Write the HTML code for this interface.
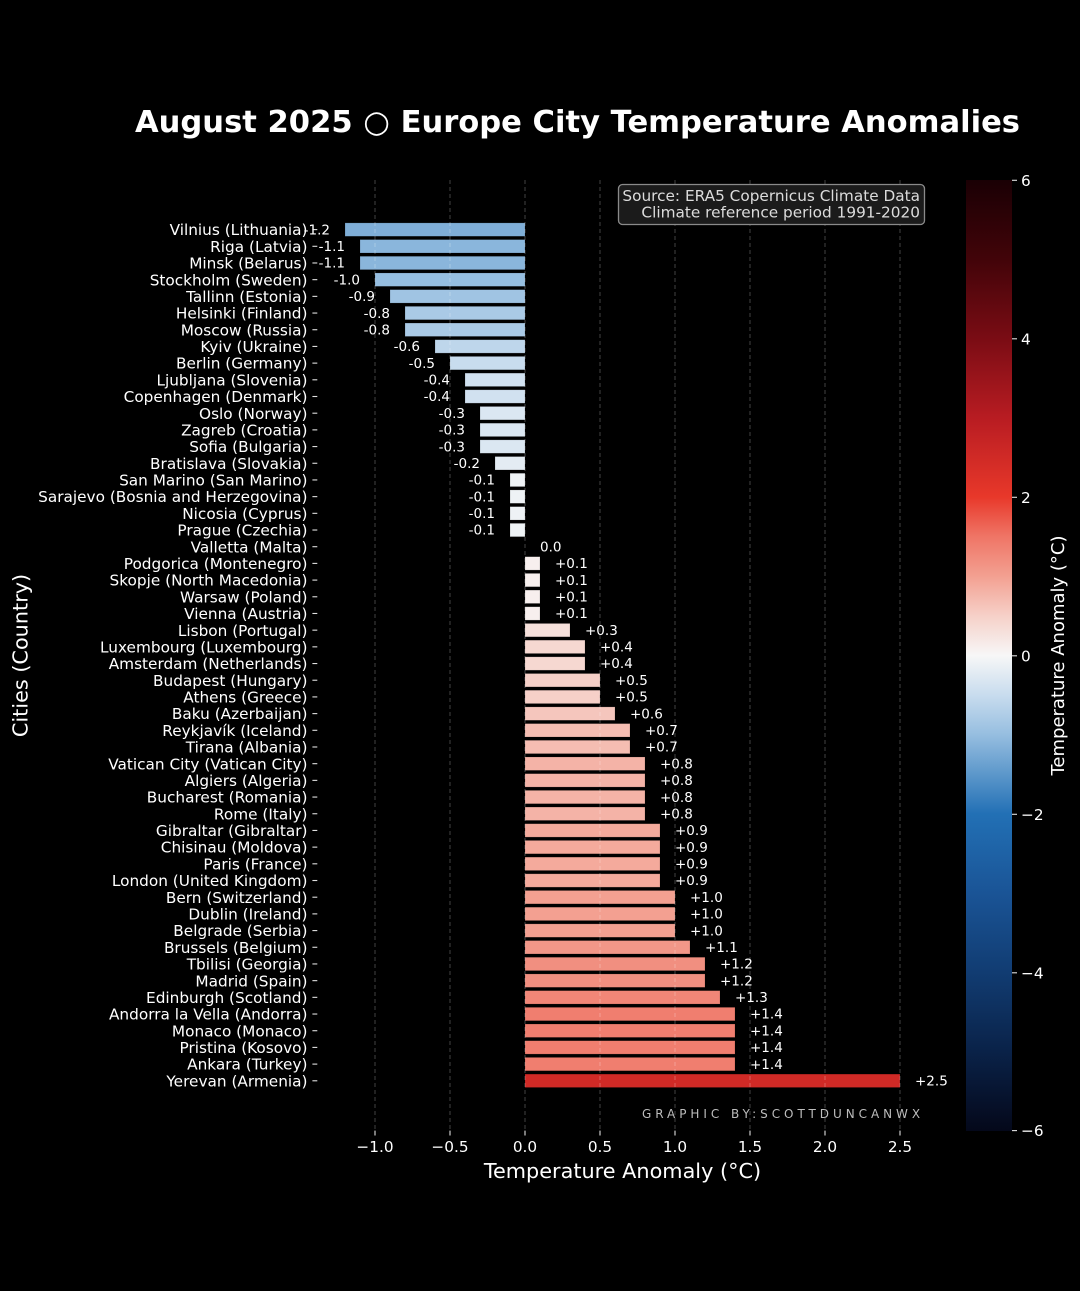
<!DOCTYPE html>
<html>
<head>
<meta charset="utf-8">
<style>
  html,body{margin:0;padding:0;background:#000;}
  svg{display:block;}
  text{font-family:"DejaVu Sans","Liberation Sans",sans-serif;}
  .yl{font-size:15.3px;fill:#fff;text-anchor:end;}
  .vn{font-size:13.5px;fill:#fff;text-anchor:end;}
  .vp{font-size:13.5px;fill:#fff;text-anchor:start;}
  .xt{font-size:15.3px;fill:#fff;text-anchor:middle;}
  .ct{font-size:15.3px;fill:#fff;text-anchor:start;}
  .tk{stroke:#e0e0e0;stroke-width:1.1;}
  .bar{stroke:#000;stroke-opacity:0.25;stroke-width:0.6;}
</style>
</head>
<body>
<svg width="1080" height="1291" viewBox="0 0 1080 1291" xmlns="http://www.w3.org/2000/svg">
  <defs>
    <linearGradient id="cb" x1="0" y1="0" x2="0" y2="1">
      <stop offset="0" stop-color="#1a0004"/>
      <stop offset="0.0833" stop-color="#420409"/>
      <stop offset="0.1667" stop-color="#7a0c14"/>
      <stop offset="0.25" stop-color="#b81c22"/>
      <stop offset="0.3333" stop-color="#e8382a"/>
      <stop offset="0.375" stop-color="#ef7566"/>
      <stop offset="0.4167" stop-color="#f3a091"/>
      <stop offset="0.4583" stop-color="#f6d0c8"/>
      <stop offset="0.5" stop-color="#f7f7f7"/>
      <stop offset="0.5417" stop-color="#c8dcee"/>
      <stop offset="0.5833" stop-color="#96bee0"/>
      <stop offset="0.6667" stop-color="#2270b5"/>
      <stop offset="0.75" stop-color="#1a5496"/>
      <stop offset="0.8333" stop-color="#113c72"/>
      <stop offset="0.9167" stop-color="#0a2248"/>
      <stop offset="1" stop-color="#04081a"/>
    </linearGradient>
  </defs>

  <rect x="0" y="0" width="1080" height="1291" fill="#000"/>

  <!-- Title -->
  <text x="577.5" y="132" font-size="30.6" font-weight="bold" fill="#fff" text-anchor="middle" textLength="885" lengthAdjust="spacingAndGlyphs">August 2025 ○ Europe City Temperature Anomalies</text>

  <!-- Rows -->
  <g transform="translate(0,229.6)"><text class="yl" x="307.5" y="5.6">Vilnius (Lithuania)</text><line class="tk" x1="312.4" x2="317.3" y1="0" y2="0"/><rect class="bar" x="345" y="-6.7" width="180" height="13.4" fill="#7faed7"/><text class="vn" x="330" y="4.7">-1.2</text></g>
  <g transform="translate(0,246.29)"><text class="yl" x="307.5" y="5.6">Riga (Latvia)</text><line class="tk" x1="312.4" x2="317.3" y1="0" y2="0"/><rect class="bar" x="360" y="-6.7" width="165" height="13.4" fill="#8ab6dc"/><text class="vn" x="345" y="4.7">-1.1</text></g>
  <g transform="translate(0,262.98)"><text class="yl" x="307.5" y="5.6">Minsk (Belarus)</text><line class="tk" x1="312.4" x2="317.3" y1="0" y2="0"/><rect class="bar" x="360" y="-6.7" width="165" height="13.4" fill="#8ab6dc"/><text class="vn" x="345" y="4.7">-1.1</text></g>
  <g transform="translate(0,279.67)"><text class="yl" x="307.5" y="5.6">Stockholm (Sweden)</text><line class="tk" x1="312.4" x2="317.3" y1="0" y2="0"/><rect class="bar" x="375" y="-6.7" width="150" height="13.4" fill="#96bee0"/><text class="vn" x="360" y="4.7">-1.0</text></g>
  <g transform="translate(0,296.36)"><text class="yl" x="307.5" y="5.6">Tallinn (Estonia)</text><line class="tk" x1="312.4" x2="317.3" y1="0" y2="0"/><rect class="bar" x="390" y="-6.7" width="135" height="13.4" fill="#a0c4e3"/><text class="vn" x="375" y="4.7">-0.9</text></g>
  <g transform="translate(0,313.05)"><text class="yl" x="307.5" y="5.6">Helsinki (Finland)</text><line class="tk" x1="312.4" x2="317.3" y1="0" y2="0"/><rect class="bar" x="405" y="-6.7" width="120" height="13.4" fill="#aacae6"/><text class="vn" x="390" y="4.7">-0.8</text></g>
  <g transform="translate(0,329.74)"><text class="yl" x="307.5" y="5.6">Moscow (Russia)</text><line class="tk" x1="312.4" x2="317.3" y1="0" y2="0"/><rect class="bar" x="405" y="-6.7" width="120" height="13.4" fill="#aacae6"/><text class="vn" x="390" y="4.7">-0.8</text></g>
  <g transform="translate(0,346.43)"><text class="yl" x="307.5" y="5.6">Kyiv (Ukraine)</text><line class="tk" x1="312.4" x2="317.3" y1="0" y2="0"/><rect class="bar" x="435" y="-6.7" width="90" height="13.4" fill="#bed6eb"/><text class="vn" x="420" y="4.7">-0.6</text></g>
  <g transform="translate(0,363.12)"><text class="yl" x="307.5" y="5.6">Berlin (Germany)</text><line class="tk" x1="312.4" x2="317.3" y1="0" y2="0"/><rect class="bar" x="450" y="-6.7" width="75" height="13.4" fill="#c8dcee"/><text class="vn" x="435" y="4.7">-0.5</text></g>
  <g transform="translate(0,379.81)"><text class="yl" x="307.5" y="5.6">Ljubljana (Slovenia)</text><line class="tk" x1="312.4" x2="317.3" y1="0" y2="0"/><rect class="bar" x="465" y="-6.7" width="60" height="13.4" fill="#d1e1f0"/><text class="vn" x="450" y="4.7">-0.4</text></g>
  <g transform="translate(0,396.5)"><text class="yl" x="307.5" y="5.6">Copenhagen (Denmark)</text><line class="tk" x1="312.4" x2="317.3" y1="0" y2="0"/><rect class="bar" x="465" y="-6.7" width="60" height="13.4" fill="#d1e1f0"/><text class="vn" x="450" y="4.7">-0.4</text></g>
  <g transform="translate(0,413.19)"><text class="yl" x="307.5" y="5.6">Oslo (Norway)</text><line class="tk" x1="312.4" x2="317.3" y1="0" y2="0"/><rect class="bar" x="480" y="-6.7" width="45" height="13.4" fill="#dbe7f2"/><text class="vn" x="465" y="4.7">-0.3</text></g>
  <g transform="translate(0,429.88)"><text class="yl" x="307.5" y="5.6">Zagreb (Croatia)</text><line class="tk" x1="312.4" x2="317.3" y1="0" y2="0"/><rect class="bar" x="480" y="-6.7" width="45" height="13.4" fill="#dbe7f2"/><text class="vn" x="465" y="4.7">-0.3</text></g>
  <g transform="translate(0,446.57)"><text class="yl" x="307.5" y="5.6">Sofia (Bulgaria)</text><line class="tk" x1="312.4" x2="317.3" y1="0" y2="0"/><rect class="bar" x="480" y="-6.7" width="45" height="13.4" fill="#dbe7f2"/><text class="vn" x="465" y="4.7">-0.3</text></g>
  <g transform="translate(0,463.26)"><text class="yl" x="307.5" y="5.6">Bratislava (Slovakia)</text><line class="tk" x1="312.4" x2="317.3" y1="0" y2="0"/><rect class="bar" x="495" y="-6.7" width="30" height="13.4" fill="#e4ecf3"/><text class="vn" x="480" y="4.7">-0.2</text></g>
  <g transform="translate(0,479.95)"><text class="yl" x="307.5" y="5.6">San Marino (San Marino)</text><line class="tk" x1="312.4" x2="317.3" y1="0" y2="0"/><rect class="bar" x="510" y="-6.7" width="15" height="13.4" fill="#eef2f5"/><text class="vn" x="495" y="4.7">-0.1</text></g>
  <g transform="translate(0,496.64)"><text class="yl" x="307.5" y="5.6">Sarajevo (Bosnia and Herzegovina)</text><line class="tk" x1="312.4" x2="317.3" y1="0" y2="0"/><rect class="bar" x="510" y="-6.7" width="15" height="13.4" fill="#eef2f5"/><text class="vn" x="495" y="4.7">-0.1</text></g>
  <g transform="translate(0,513.33)"><text class="yl" x="307.5" y="5.6">Nicosia (Cyprus)</text><line class="tk" x1="312.4" x2="317.3" y1="0" y2="0"/><rect class="bar" x="510" y="-6.7" width="15" height="13.4" fill="#eef2f5"/><text class="vn" x="495" y="4.7">-0.1</text></g>
  <g transform="translate(0,530.02)"><text class="yl" x="307.5" y="5.6">Prague (Czechia)</text><line class="tk" x1="312.4" x2="317.3" y1="0" y2="0"/><rect class="bar" x="510" y="-6.7" width="15" height="13.4" fill="#eef2f5"/><text class="vn" x="495" y="4.7">-0.1</text></g>
  <g transform="translate(0,546.71)"><text class="yl" x="307.5" y="5.6">Valletta (Malta)</text><line class="tk" x1="312.4" x2="317.3" y1="0" y2="0"/><text class="vp" x="540" y="4.7">0.0</text></g>
  <g transform="translate(0,563.4)"><text class="yl" x="307.5" y="5.6">Podgorica (Montenegro)</text><line class="tk" x1="312.4" x2="317.3" y1="0" y2="0"/><rect class="bar" x="525" y="-6.7" width="15" height="13.4" fill="#f7efee"/><text class="vp" x="555" y="4.7">+0.1</text></g>
  <g transform="translate(0,580.09)"><text class="yl" x="307.5" y="5.6">Skopje (North Macedonia)</text><line class="tk" x1="312.4" x2="317.3" y1="0" y2="0"/><rect class="bar" x="525" y="-6.7" width="15" height="13.4" fill="#f7efee"/><text class="vp" x="555" y="4.7">+0.1</text></g>
  <g transform="translate(0,596.78)"><text class="yl" x="307.5" y="5.6">Warsaw (Poland)</text><line class="tk" x1="312.4" x2="317.3" y1="0" y2="0"/><rect class="bar" x="525" y="-6.7" width="15" height="13.4" fill="#f7efee"/><text class="vp" x="555" y="4.7">+0.1</text></g>
  <g transform="translate(0,613.47)"><text class="yl" x="307.5" y="5.6">Vienna (Austria)</text><line class="tk" x1="312.4" x2="317.3" y1="0" y2="0"/><rect class="bar" x="525" y="-6.7" width="15" height="13.4" fill="#f7efee"/><text class="vp" x="555" y="4.7">+0.1</text></g>
  <g transform="translate(0,630.16)"><text class="yl" x="307.5" y="5.6">Lisbon (Portugal)</text><line class="tk" x1="312.4" x2="317.3" y1="0" y2="0"/><rect class="bar" x="525" y="-6.7" width="45" height="13.4" fill="#f6e0db"/><text class="vp" x="585" y="4.7">+0.3</text></g>
  <g transform="translate(0,646.85)"><text class="yl" x="307.5" y="5.6">Luxembourg (Luxembourg)</text><line class="tk" x1="312.4" x2="317.3" y1="0" y2="0"/><rect class="bar" x="525" y="-6.7" width="60" height="13.4" fill="#f6d8d1"/><text class="vp" x="600" y="4.7">+0.4</text></g>
  <g transform="translate(0,663.54)"><text class="yl" x="307.5" y="5.6">Amsterdam (Netherlands)</text><line class="tk" x1="312.4" x2="317.3" y1="0" y2="0"/><rect class="bar" x="525" y="-6.7" width="60" height="13.4" fill="#f6d8d1"/><text class="vp" x="600" y="4.7">+0.4</text></g>
  <g transform="translate(0,680.23)"><text class="yl" x="307.5" y="5.6">Budapest (Hungary)</text><line class="tk" x1="312.4" x2="317.3" y1="0" y2="0"/><rect class="bar" x="525" y="-6.7" width="75" height="13.4" fill="#f6d0c8"/><text class="vp" x="615" y="4.7">+0.5</text></g>
  <g transform="translate(0,696.92)"><text class="yl" x="307.5" y="5.6">Athens (Greece)</text><line class="tk" x1="312.4" x2="317.3" y1="0" y2="0"/><rect class="bar" x="525" y="-6.7" width="75" height="13.4" fill="#f6d0c8"/><text class="vp" x="615" y="4.7">+0.5</text></g>
  <g transform="translate(0,713.61)"><text class="yl" x="307.5" y="5.6">Baku (Azerbaijan)</text><line class="tk" x1="312.4" x2="317.3" y1="0" y2="0"/><rect class="bar" x="525" y="-6.7" width="90" height="13.4" fill="#f5c6bd"/><text class="vp" x="630" y="4.7">+0.6</text></g>
  <g transform="translate(0,730.3)"><text class="yl" x="307.5" y="5.6">Reykjavík (Iceland)</text><line class="tk" x1="312.4" x2="317.3" y1="0" y2="0"/><rect class="bar" x="525" y="-6.7" width="105" height="13.4" fill="#f5bdb2"/><text class="vp" x="645" y="4.7">+0.7</text></g>
  <g transform="translate(0,746.99)"><text class="yl" x="307.5" y="5.6">Tirana (Albania)</text><line class="tk" x1="312.4" x2="317.3" y1="0" y2="0"/><rect class="bar" x="525" y="-6.7" width="105" height="13.4" fill="#f5bdb2"/><text class="vp" x="645" y="4.7">+0.7</text></g>
  <g transform="translate(0,763.68)"><text class="yl" x="307.5" y="5.6">Vatican City (Vatican City)</text><line class="tk" x1="312.4" x2="317.3" y1="0" y2="0"/><rect class="bar" x="525" y="-6.7" width="120" height="13.4" fill="#f4b3a7"/><text class="vp" x="660" y="4.7">+0.8</text></g>
  <g transform="translate(0,780.37)"><text class="yl" x="307.5" y="5.6">Algiers (Algeria)</text><line class="tk" x1="312.4" x2="317.3" y1="0" y2="0"/><rect class="bar" x="525" y="-6.7" width="120" height="13.4" fill="#f4b3a7"/><text class="vp" x="660" y="4.7">+0.8</text></g>
  <g transform="translate(0,797.06)"><text class="yl" x="307.5" y="5.6">Bucharest (Romania)</text><line class="tk" x1="312.4" x2="317.3" y1="0" y2="0"/><rect class="bar" x="525" y="-6.7" width="120" height="13.4" fill="#f4b3a7"/><text class="vp" x="660" y="4.7">+0.8</text></g>
  <g transform="translate(0,813.75)"><text class="yl" x="307.5" y="5.6">Rome (Italy)</text><line class="tk" x1="312.4" x2="317.3" y1="0" y2="0"/><rect class="bar" x="525" y="-6.7" width="120" height="13.4" fill="#f4b3a7"/><text class="vp" x="660" y="4.7">+0.8</text></g>
  <g transform="translate(0,830.44)"><text class="yl" x="307.5" y="5.6">Gibraltar (Gibraltar)</text><line class="tk" x1="312.4" x2="317.3" y1="0" y2="0"/><rect class="bar" x="525" y="-6.7" width="135" height="13.4" fill="#f4aa9c"/><text class="vp" x="675" y="4.7">+0.9</text></g>
  <g transform="translate(0,847.13)"><text class="yl" x="307.5" y="5.6">Chisinau (Moldova)</text><line class="tk" x1="312.4" x2="317.3" y1="0" y2="0"/><rect class="bar" x="525" y="-6.7" width="135" height="13.4" fill="#f4aa9c"/><text class="vp" x="675" y="4.7">+0.9</text></g>
  <g transform="translate(0,863.82)"><text class="yl" x="307.5" y="5.6">Paris (France)</text><line class="tk" x1="312.4" x2="317.3" y1="0" y2="0"/><rect class="bar" x="525" y="-6.7" width="135" height="13.4" fill="#f4aa9c"/><text class="vp" x="675" y="4.7">+0.9</text></g>
  <g transform="translate(0,880.51)"><text class="yl" x="307.5" y="5.6">London (United Kingdom)</text><line class="tk" x1="312.4" x2="317.3" y1="0" y2="0"/><rect class="bar" x="525" y="-6.7" width="135" height="13.4" fill="#f4aa9c"/><text class="vp" x="675" y="4.7">+0.9</text></g>
  <g transform="translate(0,897.2)"><text class="yl" x="307.5" y="5.6">Bern (Switzerland)</text><line class="tk" x1="312.4" x2="317.3" y1="0" y2="0"/><rect class="bar" x="525" y="-6.7" width="150" height="13.4" fill="#f3a091"/><text class="vp" x="690" y="4.7">+1.0</text></g>
  <g transform="translate(0,913.89)"><text class="yl" x="307.5" y="5.6">Dublin (Ireland)</text><line class="tk" x1="312.4" x2="317.3" y1="0" y2="0"/><rect class="bar" x="525" y="-6.7" width="150" height="13.4" fill="#f3a091"/><text class="vp" x="690" y="4.7">+1.0</text></g>
  <g transform="translate(0,930.58)"><text class="yl" x="307.5" y="5.6">Belgrade (Serbia)</text><line class="tk" x1="312.4" x2="317.3" y1="0" y2="0"/><rect class="bar" x="525" y="-6.7" width="150" height="13.4" fill="#f3a091"/><text class="vp" x="690" y="4.7">+1.0</text></g>
  <g transform="translate(0,947.27)"><text class="yl" x="307.5" y="5.6">Brussels (Belgium)</text><line class="tk" x1="312.4" x2="317.3" y1="0" y2="0"/><rect class="bar" x="525" y="-6.7" width="165" height="13.4" fill="#f29788"/><text class="vp" x="705" y="4.7">+1.1</text></g>
  <g transform="translate(0,963.96)"><text class="yl" x="307.5" y="5.6">Tbilisi (Georgia)</text><line class="tk" x1="312.4" x2="317.3" y1="0" y2="0"/><rect class="bar" x="525" y="-6.7" width="180" height="13.4" fill="#f18f80"/><text class="vp" x="720" y="4.7">+1.2</text></g>
  <g transform="translate(0,980.65)"><text class="yl" x="307.5" y="5.6">Madrid (Spain)</text><line class="tk" x1="312.4" x2="317.3" y1="0" y2="0"/><rect class="bar" x="525" y="-6.7" width="180" height="13.4" fill="#f18f80"/><text class="vp" x="720" y="4.7">+1.2</text></g>
  <g transform="translate(0,997.34)"><text class="yl" x="307.5" y="5.6">Edinburgh (Scotland)</text><line class="tk" x1="312.4" x2="317.3" y1="0" y2="0"/><rect class="bar" x="525" y="-6.7" width="195" height="13.4" fill="#f18677"/><text class="vp" x="735" y="4.7">+1.3</text></g>
  <g transform="translate(0,1014.03)"><text class="yl" x="307.5" y="5.6">Andorra la Vella (Andorra)</text><line class="tk" x1="312.4" x2="317.3" y1="0" y2="0"/><rect class="bar" x="525" y="-6.7" width="210" height="13.4" fill="#f07e6f"/><text class="vp" x="750" y="4.7">+1.4</text></g>
  <g transform="translate(0,1030.72)"><text class="yl" x="307.5" y="5.6">Monaco (Monaco)</text><line class="tk" x1="312.4" x2="317.3" y1="0" y2="0"/><rect class="bar" x="525" y="-6.7" width="210" height="13.4" fill="#f07e6f"/><text class="vp" x="750" y="4.7">+1.4</text></g>
  <g transform="translate(0,1047.41)"><text class="yl" x="307.5" y="5.6">Pristina (Kosovo)</text><line class="tk" x1="312.4" x2="317.3" y1="0" y2="0"/><rect class="bar" x="525" y="-6.7" width="210" height="13.4" fill="#f07e6f"/><text class="vp" x="750" y="4.7">+1.4</text></g>
  <g transform="translate(0,1064.1)"><text class="yl" x="307.5" y="5.6">Ankara (Turkey)</text><line class="tk" x1="312.4" x2="317.3" y1="0" y2="0"/><rect class="bar" x="525" y="-6.7" width="210" height="13.4" fill="#f07e6f"/><text class="vp" x="750" y="4.7">+1.4</text></g>
  <g transform="translate(0,1080.79)"><text class="yl" x="307.5" y="5.6">Yerevan (Armenia)</text><line class="tk" x1="312.4" x2="317.3" y1="0" y2="0"/><rect class="bar" x="525" y="-6.7" width="375" height="13.4" fill="#d02a26"/><text class="vp" x="915" y="4.7">+2.5</text></g>

  <!-- Grid lines (drawn above bars, semi-transparent) -->
  <g stroke="#ffffff" stroke-opacity="0.26" stroke-width="1" stroke-dasharray="4,3">
    <line x1="375" x2="375" y1="180" y2="1130.6"/>
    <line x1="450" x2="450" y1="180" y2="1130.6"/>
    <line x1="525" x2="525" y1="180" y2="1130.6"/>
    <line x1="600" x2="600" y1="180" y2="1130.6"/>
    <line x1="675" x2="675" y1="180" y2="1130.6"/>
    <line x1="750" x2="750" y1="180" y2="1130.6"/>
    <line x1="825" x2="825" y1="180" y2="1130.6"/>
    <line x1="900" x2="900" y1="180" y2="1130.6"/>
  </g>

  <!-- Source box -->
  <rect x="618.5" y="184.5" width="306" height="40" rx="4" ry="4" fill="#1b1b1b" stroke="#8a8a8a" stroke-width="1.3"/>
  <text x="920" y="201" font-size="15.3" fill="#dcdcdc" text-anchor="end">Source: ERA5 Copernicus Climate Data</text>
  <text x="920" y="217.5" font-size="15.3" fill="#dcdcdc" text-anchor="end">Climate reference period 1991-2020</text>

  <!-- Watermark -->
  <text x="642" y="1118" font-size="12" fill="#bdbdbd" letter-spacing="3.95">GRAPHIC BY:SCOTTDUNCANWX</text>

  <!-- X ticks -->
  <g class="tk">
    <line x1="375" x2="375" y1="1130.6" y2="1135.5"/>
    <line x1="450" x2="450" y1="1130.6" y2="1135.5"/>
    <line x1="525" x2="525" y1="1130.6" y2="1135.5"/>
    <line x1="600" x2="600" y1="1130.6" y2="1135.5"/>
    <line x1="675" x2="675" y1="1130.6" y2="1135.5"/>
    <line x1="750" x2="750" y1="1130.6" y2="1135.5"/>
    <line x1="825" x2="825" y1="1130.6" y2="1135.5"/>
    <line x1="900" x2="900" y1="1130.6" y2="1135.5"/>
  </g>
  <text class="xt" x="375" y="1152">−1.0</text>
  <text class="xt" x="450" y="1152">−0.5</text>
  <text class="xt" x="525" y="1152">0.0</text>
  <text class="xt" x="600" y="1152">0.5</text>
  <text class="xt" x="675" y="1152">1.0</text>
  <text class="xt" x="750" y="1152">1.5</text>
  <text class="xt" x="825" y="1152">2.0</text>
  <text class="xt" x="900" y="1152">2.5</text>

  <!-- Axis labels -->
  <text x="622.5" y="1178" font-size="20.8" fill="#fff" text-anchor="middle">Temperature Anomaly (°C)</text>
  <text transform="translate(27.5,655.5) rotate(-90)" font-size="20.8" fill="#fff" text-anchor="middle">Cities (Country)</text>

  <!-- Colorbar -->
  <rect x="966" y="180" width="46" height="951" fill="url(#cb)"/>
  <g class="tk">
    <line x1="1012" x2="1017" y1="180.3" y2="180.3"/>
    <line x1="1012" x2="1017" y1="338.8" y2="338.8"/>
    <line x1="1012" x2="1017" y1="497.3" y2="497.3"/>
    <line x1="1012" x2="1017" y1="655.8" y2="655.8"/>
    <line x1="1012" x2="1017" y1="814.3" y2="814.3"/>
    <line x1="1012" x2="1017" y1="972.8" y2="972.8"/>
    <line x1="1012" x2="1017" y1="1130.6" y2="1130.6"/>
  </g>
  <text class="ct" x="1021" y="185.8">6</text>
  <text class="ct" x="1021" y="344.3">4</text>
  <text class="ct" x="1021" y="502.8">2</text>
  <text class="ct" x="1021" y="661.3">0</text>
  <text class="ct" x="1021" y="819.8">−2</text>
  <text class="ct" x="1021" y="978.3">−4</text>
  <text class="ct" x="1021" y="1136.1">−6</text>
  <text transform="translate(1064,655.5) rotate(-90)" font-size="18" fill="#fff" text-anchor="middle">Temperature Anomaly (°C)</text>
</svg>
</body>
</html>
